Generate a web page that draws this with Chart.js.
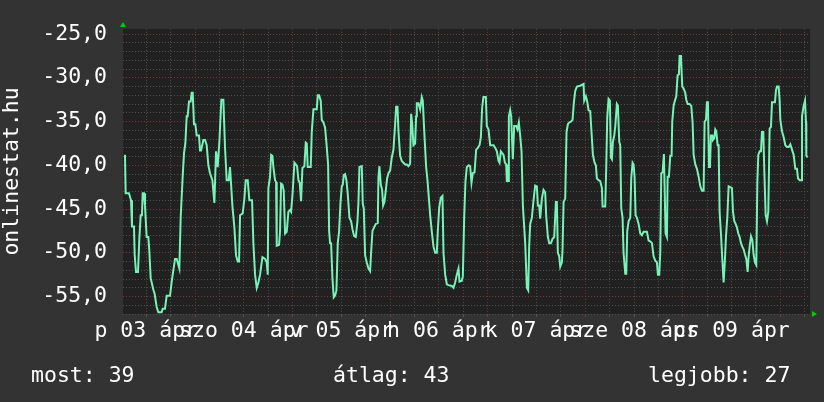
<!DOCTYPE html>
<html>
<head>
<meta charset="utf-8">
<title>onlinestat.hu</title>
<script src="https://cdn.jsdelivr.net/npm/chart.js@4/dist/chart.umd.min.js"></script>
<style>
  body { margin: 0; background: #333333; }
  #wrap { position: relative; width: 824px; height: 402px; background: #333333; }
  .legend {
    position: absolute;
    top: 364px;
    font: 21.5px 'DejaVu Sans Mono', monospace;
    line-height: 1;
    color: #ffffff;
    white-space: pre;
  }
</style>
</head>
<body>
<div id="wrap">
  <canvas id="chart" width="824" height="402"></canvas>
  <div class="legend" id="lg0" style="left:31px"></div>
  <div class="legend" id="lg1" style="left:333px"></div>
  <div class="legend" id="lg2" style="left:648px"></div>
</div>
<script>
// Napi címkék (dél időpontra középre igazítva)
const dayLabels = ['p 03 ápr', 'szo 04 ápr', 'v 05 ápr', 'h 06 ápr', 'k 07 ápr', 'sze 08 ápr', 'cs 09 ápr'];

// Alsó összesítő sor
const legendLabels = ['most', 'átlag', 'legjobb'];
const legendValues = [39, 43, 27];

// Idő (órák ápr 03 00:00-tól) és mért értékek
const hours = [
  6.77, 6.93, 7.75, 8.25, 8.49, 8.98, 9.15, 9.48, 9.97, 10.3, 10.63, 10.95, 11.12, 11.45, 11.69,
  12.1, 12.51, 12.76, 13.09, 13.74, 14.07, 14.56, 14.97, 15.79, 16.04, 16.61, 17.03, 17.85, 18.26,
  19.08, 19.49, 20.14, 20.47, 20.96, 21.29, 21.62, 21.95, 22.19, 22.52, 22.93, 23.18, 23.43, 23.75,
  24.08, 24.41, 24.98, 25.23, 25.48, 26.05, 26.46, 26.87, 27.28, 27.69, 28.27, 28.76, 29.17, 29.58,
  29.99, 30.48, 30.97, 31.38, 31.79, 32.29, 32.61, 33.19, 33.68, 34.09, 34.5, 34.83, 35.08, 35.73,
  36.14, 36.47, 36.96, 37.37, 38.03, 38.36,
  38.77, 39.18, 39.59, 40.0, 40.58, 41.23, 41.64, 41.89, 42.05, 42.46, 42.71, 43.04, 43.28, 43.69,
  43.94, 44.1, 44.68, 44.92, 45.17, 45.5, 45.83, 46.15, 46.56, 46.98, 47.39, 47.63, 47.96, 48.45,
  48.78, 49.11, 49.44, 49.76, 50.09, 50.42, 50.91, 51.24, 51.49, 51.73, 52.47, 52.72, 53.13, 53.95,
  54.2, 54.52, 54.93, 55.18, 55.59, 56.0, 56.41, 56.74, 56.99, 57.23, 57.48, 57.81, 58.13, 58.46,
  58.79, 59.12, 59.45, 59.77, 60.1, 60.35, 60.6, 60.92, 61.25, 61.58, 61.99, 62.4, 62.73, 63.14,
  63.55, 63.96, 64.21, 64.45, 65.03, 65.27, 65.52, 65.85, 66.26, 66.67, 67.08, 67.32, 67.65, 68.06,
  68.47, 68.96, 69.13, 69.37, 69.7, 70.03, 70.28, 70.6, 70.93, 71.26, 71.59, 72.0,
  72.41, 72.82, 73.15, 73.48, 73.81, 74.05, 74.46, 74.87, 75.28, 75.69, 76.1, 76.51, 76.92, 77.17,
  77.42, 77.74, 78.15, 78.4, 78.56, 78.97, 79.38, 79.79, 80.04, 80.37, 80.86, 81.19, 81.52, 81.85,
  82.26, 82.67, 83.08, 83.49, 83.73, 84.06, 84.47, 84.88, 85.13, 85.54, 85.95, 86.36, 87.18, 87.59,
  88.0, 88.41, 88.82, 89.07, 89.64, 89.89, 90.22, 90.54, 90.87, 91.36, 91.69, 92.02, 92.35, 92.76,
  93.17, 93.58, 93.99, 94.32, 94.65, 94.97, 95.55, 95.79, 96.2, 96.62, 97.44, 97.85, 98.26, 98.67,
  98.91, 99.24, 99.57, 99.9, 100.23, 100.55, 100.72, 101.05, 101.21, 101.54, 101.78, 102.19, 102.52,
  103.01, 103.34, 103.67, 104.0, 104.33, 104.66, 105.23, 105.64, 105.97, 106.21,
  106.46, 106.87, 107.28, 107.69, 108.1, 108.35, 108.68, 108.92, 109.33, 109.74, 110.15, 110.4,
  110.81, 111.14, 111.55, 111.96, 112.37, 112.78, 113.02, 113.27, 113.6, 113.85, 114.26, 114.42,
  114.67, 115.08, 115.4, 115.73, 116.06, 116.47, 116.88, 117.21, 117.54, 117.95, 118.77, 119.59,
  119.75, 120.16, 120.49, 120.82, 121.23, 121.48, 121.89, 122.3, 122.62, 122.87, 123.28, 123.69,
  124.1, 124.27, 124.92, 125.17, 125.41, 125.74, 126.07, 126.32, 126.56, 126.81, 127.14, 127.38,
  127.79, 128.04, 128.37, 128.61, 128.86, 129.19, 129.43, 129.85, 130.09, 130.34, 130.67, 131.08,
  131.32, 131.65, 131.9, 132.14, 132.39, 132.72, 133.13, 133.54, 133.95, 134.36, 135.18, 135.59,
  136.0, 136.41, 136.82, 137.23, 137.64, 137.89, 138.21, 138.46, 138.71, 139.04, 139.36,
  139.77, 140.1, 140.27, 140.59, 140.92, 141.25, 141.41, 141.74, 142.07, 142.4, 142.73, 143.05,
  143.22, 143.55, 143.71, 143.88, 144.2, 144.61, 144.86, 145.19, 145.68, 146.09, 146.42, 146.67,
  147.08, 147.49, 147.9, 148.31, 148.72, 149.13, 149.37, 149.7, 149.95, 150.19, 150.44, 150.69,
  150.93, 151.26, 151.42, 151.75, 152.0, 152.24, 152.57, 152.82, 153.06, 153.39, 153.72, 154.05,
  154.38, 154.62, 154.95, 155.28, 156.1, 156.35, 156.68, 157.0, 157.33, 157.66, 157.99, 158.32,
  158.64, 158.97, 159.3, 159.63, 159.96, 160.2, 160.45, 160.78, 161.1, 161.43, 161.76, 162.09,
  162.34, 162.58, 162.91, 163.24, 163.48, 163.81, 164.06, 164.39, 164.72, 165.04, 165.37, 165.7,
  165.95, 166.68, 166.93, 167.18, 167.59, 167.83, 168.0, 168.41, 168.82, 169.23, 169.64, 170.05,
  170.46, 170.87, 171.28, 171.69, 172.1, 172.35, 172.76, 173.17, 173.33, 173.74, 174.07, 174.32,
  174.4, 174.73
];

const values = [
  -38.8, -43.2, -43.2, -44.0, -47.0, -47.0, -50.2, -52.2, -52.2, -48.4, -45.7, -45.7, -43.2, -43.2, -44.6,
  -48.2, -48.2, -49.8, -52.9, -54.2, -54.7, -56.2, -56.8, -56.8, -56.4, -56.4, -54.9, -54.9, -53.3,
  -50.7, -50.7, -51.8, -46.0, -41.3, -38.6, -37.5, -34.4, -34.4, -32.7, -32.7, -31.7, -31.7, -35.3,
  -35.3, -36.6, -36.6, -38.3, -38.3, -37.1, -37.1, -37.7, -40.0, -40.9, -41.7, -44.3, -38.4, -40.2,
  -37.3, -32.5, -32.5, -38.0, -41.7, -41.7, -40.2, -44.6, -47.1, -50.3, -51.0, -51.0, -45.7, -45.5,
  -43.8, -41.7, -41.7, -44.0, -44.0, -48.9,
  -52.5, -54.0, -53.4, -52.5, -50.5, -50.7, -51.1, -52.5, -42.6, -41.3, -38.8, -38.9, -40.2, -41.7,
  -41.9, -49.2, -49.1, -47.5, -42.1, -42.2, -42.9, -47.8, -47.6, -45.3, -45.1, -45.3, -43.5, -39.7,
  -39.9, -40.1, -41.7, -42.0, -44.1, -40.3, -40.1, -37.4, -37.5, -40.2, -40.2, -36.2, -33.6, -33.6,
  -32.0, -32.0, -32.6, -34.8, -35.1, -35.7, -37.9, -39.9, -47.5, -48.9, -48.9, -52.9, -55.1, -54.9,
  -54.3, -48.9, -47.5, -44.4, -42.4, -42.2, -41.1, -41.0, -41.7, -43.3, -46.0, -46.4, -47.3, -48.1,
  -48.2, -46.4, -44.2, -40.2, -40.1, -44.4, -44.9, -50.3, -51.1, -51.8, -52.1, -50.0, -47.5, -47.1,
  -46.7, -46.6, -41.3, -40.1, -42.2, -42.8, -44.6, -44.2, -42.9, -41.5, -40.9, -40.6,
  -39.1, -38.2, -35.9, -33.3, -33.3, -36.1, -38.9, -39.5, -39.7, -39.9, -39.9, -40.1, -39.8, -34.1,
  -35.2, -37.7, -37.5, -34.4, -32.9, -32.9, -33.6, -32.2, -32.6, -35.9, -40.2, -41.7, -43.7, -45.7,
  -47.6, -49.3, -50.0, -50.0, -47.5, -44.9, -43.7, -43.5, -50.0, -52.5, -53.6, -53.7, -53.8, -54.0,
  -53.4, -52.5, -51.8, -53.3, -53.2, -52.7, -46.0, -41.8, -40.2, -40.0, -40.1, -42.0, -40.9, -40.8,
  -38.2, -38.0, -37.7, -36.8, -33.3, -32.2, -32.2, -35.5, -35.9, -37.7, -37.7, -38.0, -38.4, -39.5,
  -39.7, -38.4, -38.6, -38.8, -39.7, -39.9, -41.8, -41.8, -34.4, -33.7, -34.4, -39.3, -35.5,
  -35.5, -35.9, -35.1, -36.6, -38.4, -44.6, -48.9, -54.0, -54.3, -49.3,
  -46.7, -46.0, -44.0, -42.3, -42.4, -44.6, -44.6, -46.1, -43.8, -42.8, -43.1, -45.8,
  -48.2, -48.9, -48.9, -48.4, -48.2, -44.2, -44.2, -50.0, -50.4, -51.6, -51.1, -49.6,
  -44.2, -43.8, -36.2, -35.3, -35.1, -35.0, -34.8, -32.8, -31.5, -31.0, -30.9, -30.7,
  -32.6, -32.1, -32.7, -33.7, -33.8, -35.7, -38.8, -39.7, -40.0, -41.5, -41.7, -41.8,
  -42.6, -44.7, -44.7, -40.2, -34.6, -32.4, -32.6, -39.1, -39.3, -37.3, -36.6, -35.6,
  -33.0, -33.2, -37.3, -37.7, -44.9, -46.0, -50.0, -52.4, -52.4, -47.5, -46.4, -46.0,
  -41.5, -39.7, -39.9, -41.3, -45.7, -46.0, -46.7, -47.8, -48.0, -47.6, -47.6, -48.6,
  -48.7, -48.9, -50.4, -50.9, -51.1, -52.5, -52.5, -50.0, -40.9, -40.8, -38.7,
  -47.8, -48.2, -41.3, -41.3, -38.9, -38.9, -35.0, -33.2, -32.6, -32.1, -29.7, -29.6,
  -27.5, -27.5, -29.3, -31.0, -31.2, -31.7, -32.5, -33.0, -33.0, -33.2, -35.1, -38.8,
  -39.9, -40.4, -41.3, -42.4, -42.9, -42.9, -35.0, -34.8, -32.8, -32.8, -40.2, -40.2,
  -36.6, -36.6, -37.1, -36.9, -35.9, -36.1, -37.7, -37.7, -45.3, -47.8, -50.7, -53.4,
  -50.7, -48.2, -46.0, -42.4, -42.6, -45.3, -46.4, -46.7, -47.1, -47.8, -48.2, -48.9,
  -49.3, -49.6, -50.2, -50.7, -52.2, -50.4, -49.3, -48.1, -48.5, -50.2, -51.1, -51.4,
  -42.0, -38.8, -38.4, -38.4, -36.2, -36.2, -40.6, -45.7, -46.4, -45.3, -35.8, -35.6,
  -32.8, -32.8, -31.4, -31.0, -31.0, -32.6, -34.8, -36.1, -36.8, -37.7, -37.9, -37.9,
  -37.6, -38.2, -38.8, -40.4, -40.4, -41.5, -41.7, -41.7, -34.4, -33.2, -32.6, -35.1,
  -38.9, -39.1
];

// Tengely határok
const xMin = 6.28;
const xMax = 175.3;
const yMin = -57;
const yMax = -24.4;

const FONT = "'DejaVu Sans Mono', monospace";
const majorGrid = '#74393a';
const minorGrid = '#505050';

// Alsó sor szövegei
legendLabels.forEach((label, i) => {
  document.getElementById('lg' + i).textContent = label + ': ' + legendValues[i];
});

// Rajzterület háttér
const plotBackground = {
  id: 'plotBackground',
  beforeDraw(chart) {
    const { ctx, chartArea: a } = chart;
    ctx.save();
    ctx.fillStyle = '#212121';
    ctx.fillRect(a.left, a.top, a.right - a.left, a.bottom - a.top);
    ctx.restore();
  }
};

// Zöld nyilak a tengelyek végén
const axisArrows = {
  id: 'axisArrows',
  afterDraw(chart) {
    const { ctx, chartArea: a } = chart;
    ctx.save();
    ctx.fillStyle = '#00d000';
    ctx.beginPath();
    ctx.moveTo(a.left - 3, a.top - 2);
    ctx.lineTo(a.left + 3, a.top - 2);
    ctx.lineTo(a.left, a.top - 7);
    ctx.closePath();
    ctx.fill();
    ctx.beginPath();
    ctx.moveTo(a.right + 2, a.bottom - 3);
    ctx.lineTo(a.right + 2, a.bottom + 3);
    ctx.lineTo(a.right + 7, a.bottom);
    ctx.closePath();
    ctx.fill();
    ctx.restore();
  }
};

const ctx = document.getElementById('chart').getContext('2d');

new Chart(ctx, {
  type: 'line',
  data: {
    datasets: [{
      data: hours.map((h, i) => ({ x: h, y: values[i] })),
      borderColor: '#78f2b6',
      borderWidth: 2,
      pointRadius: 0,
      tension: 0,
      fill: false
    }]
  },
  options: {
    responsive: false,
    animation: false,
    layout: { padding: { left: 0, top: 15, right: 14, bottom: 0 } },
    plugins: {
      legend: { display: false },
      tooltip: { enabled: false }
    },
    scales: {
      x: {
        type: 'linear',
        min: xMin,
        max: xMax,
        afterBuildTicks: (scale) => {
          const ticks = [];
          for (let h = 12; h < xMax; h += 6) ticks.push({ value: h });
          scale.ticks = ticks;
        },
        afterFit: (scale) => { scale.height = 88; },
        grid: {
          color: (c) => (c.tick && c.tick.value % 24 === 0) ? majorGrid : minorGrid,
          tickLength: 3,
          drawTicks: true
        },
        border: { display: false, dash: [1, 2] },
        ticks: {
          autoSkip: false,
          maxRotation: 0,
          minRotation: 0,
          padding: 2,
          color: '#ffffff',
          font: { family: FONT, size: 21.5 },
          callback: (v) => (v % 24 === 12) ? dayLabels[(v - 12) / 24] : ''
        }
      },
      y: {
        min: yMin,
        max: yMax,
        afterBuildTicks: (scale) => {
          const ticks = [];
          for (let v = yMin; v <= yMax; v += 1) ticks.push({ value: v });
          scale.ticks = ticks;
        },
        afterFit: (scale) => { scale.width = 123; },
        grid: {
          color: (c) => (c.tick && c.tick.value % 5 === 0) ? majorGrid : minorGrid,
          drawTicks: false,
          tickLength: 0
        },
        border: { display: false, dash: [1, 2] },
        ticks: {
          autoSkip: false,
          padding: 16,
          color: '#ffffff',
          font: { family: FONT, size: 21.5 },
          callback: (v) => (v % 5 === 0) ? v.toFixed(1).replace('.', ',') : ''
        },
        title: {
          display: true,
          text: 'onlinestat.hu',
          color: '#ffffff',
          font: { family: FONT, size: 21.5 },
          padding: 0
        }
      }
    }
  },
  plugins: [plotBackground, axisArrows]
});
</script>
</body>
</html>
